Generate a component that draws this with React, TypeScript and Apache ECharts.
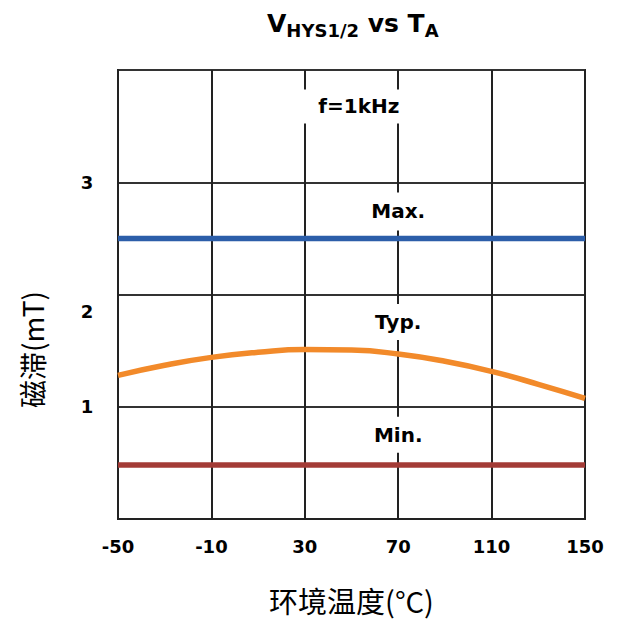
import React, { useEffect, useRef } from "react";
import * as echarts from "echarts";

const xTicks = [-50, -10, 30, 70, 110, 150];
const yTicks = [0, 1, 2, 3, 4];
const temps = [-50, -30, -10, 10, 30, 50, 70, 90, 110, 130, 150];
const typValues = [1.28, 1.37, 1.44, 1.485, 1.51, 1.505, 1.47, 1.405, 1.315, 1.2, 1.075];
const maxValues = [2.5, 2.5];
const minValues = [0.48, 0.48];
const edgeTemps = [-50, 150];
const noteLabels = ["f=1kHz", "Max.", "Typ.", "Min."];
const noteX = [50.6, 70, 70, 70];
const noteY = [3.675, 2.74, 1.755, 0.75];

const BOLD = "DejaVu Sans";
const CJK = "Noto Sans CJK SC";

export default function App() {
  const ref = useRef<HTMLDivElement>(null);
  useEffect(() => {
    document.body.style.margin = "0";
    const chart = echarts.init(ref.current!, null, { renderer: "svg" });
    const notePads = [
      [7, 3, 7, 15],
      [9, 3, 9, 3],
      [8, 3, 8, 3],
      [8, 3, 8, 3],
    ];
    chart.setOption({
      animation: false,
      backgroundColor: "#ffffff",
      title: {
        text: "{m|V}{s|HYS1/2}{m| vs T}{s|A}",
        left: 262,
        top: 6,
        textStyle: {
          rich: {
            m: { fontFamily: BOLD, fontWeight: "bold", fontSize: 25, color: "#000", verticalAlign: "bottom", padding: [0, 0, 3, 0] },
            s: { fontFamily: BOLD, fontWeight: "bold", fontSize: 18, color: "#000", verticalAlign: "bottom" },
          },
        },
      },
      grid: {
        left: 118,
        right: 36,
        top: 70,
        bottom: 102,
        show: true,
        borderColor: "#222",
        borderWidth: 2,
        containLabel: false,
      },
      xAxis: {
        type: "value",
        min: -50,
        max: 150,
        name: "环境温度(°C)",
        nameLocation: "middle",
        nameGap: 65,
        nameTextStyle: { fontFamily: CJK, fontSize: 29, color: "#000", lineHeight: 32 },
        axisLine: { show: true, onZero: false, lineStyle: { color: "#222", width: 2 } },
        axisTick: { show: false, customValues: xTicks },
        axisLabel: {
          customValues: xTicks,
          margin: 18,
          fontFamily: BOLD,
          fontWeight: "bold",
          fontSize: 18,
          color: "#000",
        },
        splitLine: { show: true, lineStyle: { color: "#222", width: 2 } },
      },
      yAxis: {
        type: "value",
        min: yTicks[0],
        max: yTicks[yTicks.length - 1],
        interval: 1,
        name: "磁滞(mT)",
        nameLocation: "middle",
        nameGap: 72,
        nameTextStyle: { fontFamily: CJK, fontSize: 28, color: "#000", padding: [0, 110, 0, 0] },
        axisLine: { show: true, onZero: false, lineStyle: { color: "#222", width: 2 } },
        axisTick: { show: false },
        axisLabel: {
          margin: 31,
          align: "center",
          formatter: (v: number) => (v === 0 || v === 4 ? "" : v === 2 ? "{low|2}" : "{n|" + v + "}"),
          rich: {
            n: { fontFamily: BOLD, fontWeight: "bold", fontSize: 18, color: "#000" },
            low: { fontFamily: BOLD, fontWeight: "bold", fontSize: 18, color: "#000", padding: [34, 0, 0, 0] },
          },
        },
        splitLine: { show: true, lineStyle: { color: "#333", width: 2 } },
      },
      series: [
        {
          name: "Max.",
          type: "line",
          data: edgeTemps.map((t, i) => [t, maxValues[i]]),
          symbol: "none",
          lineStyle: { color: "#2c5ea9", width: 5.5 },
          z: 3,
        },
        {
          name: "Typ.",
          type: "line",
          data: temps.map((t, i) => [t, typValues[i]]),
          smooth: 0.5,
          symbol: "none",
          lineStyle: { color: "#f28a2a", width: 5.5 },
          z: 3,
        },
        {
          name: "Min.",
          type: "line",
          data: edgeTemps.map((t, i) => [t, minValues[i]]),
          symbol: "none",
          lineStyle: { color: "#a33b36", width: 5.5 },
          z: 3,
        },
        {
          type: "scatter",
          symbolSize: 0,
          z: 4,
          itemStyle: { opacity: 1 },
          data: noteLabels.map((lab, i) => ({
            value: [noteX[i], noteY[i]],
            label: {
              show: true,
              position: "inside",
              formatter: lab,
              fontFamily: BOLD,
              fontWeight: "bold",
              fontSize: 20,
              color: "#000",
              backgroundColor: "#ffffff",
              padding: notePads[i],
            },
          })),
        },
      ],
    });
    return () => chart.dispose();
  }, []);
  return <div ref={ref} style={{ width: 621, height: 621 }} />;
}
